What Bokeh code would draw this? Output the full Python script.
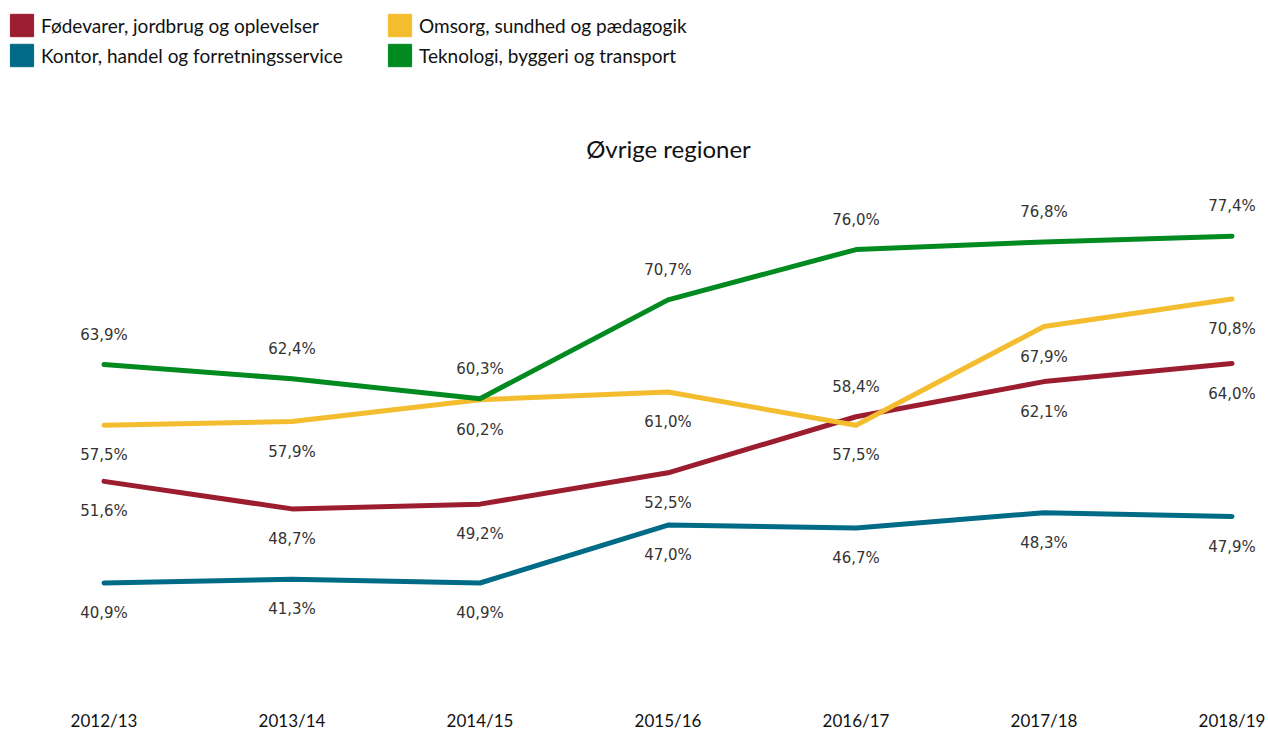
from bokeh.plotting import figure
from bokeh.models import Range1d, FixedTicker, Legend, LegendItem, Label, ColumnDataSource
from bokeh.core.properties import value
from bokeh.embed import file_html
from bokeh.resources import INLINE

years = ["2012/13", "2013/14", "2014/15", "2015/16", "2016/17", "2017/18", "2018/19"]
series_names = [
    "Fødevarer, jordbrug og oplevelser",
    "Kontor, handel og forretningsservice",
    "Omsorg, sundhed og pædagogik",
    "Teknologi, byggeri og transport",
]
foedevarer = [51.6, 48.7, 49.2, 52.5, 58.4, 62.1, 64.0]
kontor = [40.9, 41.3, 40.9, 47.0, 46.7, 48.3, 47.9]
omsorg = [57.5, 57.9, 60.2, 61.0, 57.5, 67.9, 70.8]
teknologi = [63.9, 62.4, 60.3, 70.7, 76.0, 76.8, 77.4]
title_text = "Øvrige regioner"

colors = ["#9b1d2f", "#006b86", "#f4bd2f", "#008a20"]
series_values = [foedevarer, kontor, omsorg, teknologi]
# label placement: True = above the point
above_flags = [
    [False, False, False, False, True, False, False],
    [False] * 7,
    [False] * 7,
    [True] * 7,
]

W, H = 1268, 733
MBB = 36
B = H - MBB  # frame bottom
p = figure(width=W, height=H, output_backend="svg", toolbar_location=None,
           min_border_left=0, min_border_right=0, min_border_top=0, min_border_bottom=MBB,
           outline_line_color=None)
p.x_range = Range1d(-0.5505, 6.194)
p.y_range = Range1d(63.9 - (B - 364) / 9.5, 63.9 + 364 / 9.5)
p.xgrid.visible = False
p.ygrid.visible = False
p.yaxis.visible = False
ax = p.xaxis[0]
ax.ticker = FixedTicker(ticks=list(range(len(years))))
ax.major_label_overrides = {i: y for i, y in enumerate(years)}
ax.axis_line_color = None
ax.major_tick_line_color = None
ax.minor_tick_line_color = None
ax.major_tick_in = 0
ax.major_tick_out = 0
ax.minor_tick_in = 0
ax.minor_tick_out = 0
ax.major_label_text_font = "Lato"
ax.major_label_text_font_size = "17px"
ax.major_label_text_color = "#111111"
ax.major_label_standoff = 12

xs = list(range(len(years)))
for vals, col in zip(series_values, colors):
    p.line(xs, vals, line_color=col, line_width=5, line_join="round", line_cap="round")
for vals, col, flags in zip(series_values, colors, above_flags):
    src = ColumnDataSource(dict(
        x=xs, y=vals,
        t=[f"{v:.1f}%".replace(".", ",") for v in vals],
        off=[-30 if a else 30 for a in flags],
    ))
    p.text(x="x", y="y", text="t", y_offset="off", source=src,
           text_align="center", text_baseline="middle",
           text_font=value("DejaVu Sans"), text_font_size="15px", text_color="#333333")

# legend glyphs (no visible data)
nan = float("nan")
rends = []
for col in colors:
    r = p.quad(left=[nan], right=[nan], top=[nan], bottom=[nan], fill_color=col, line_color=col)
    rends.append(r)

GW, GH, SP = 29, 28, 2
def mk_legend(idx, x):
    leg = Legend(items=[LegendItem(label=series_names[i], renderers=[rends[i]]) for i in idx],
                 location=(x, B - 11 - (2 * GH + SP)), orientation="vertical",
                 glyph_width=GW, glyph_height=GH, label_standoff=5, spacing=SP,
                 padding=0, margin=0, border_line_color=None, background_fill_alpha=0,
                 label_text_font="Lato", label_text_font_size="19px", label_text_color="#111111",
                 label_height=GH)
    p.add_layout(leg)
mk_legend([0, 1], 7)
mk_legend([2, 3], 385)

p.add_layout(Label(x=668, y=B - 148, x_units="screen", y_units="screen",
                   text=title_text, text_align="center", text_baseline="middle",
                   text_font="Lato", text_font_size="24px", text_color="#111111"))

open("out.html", "w").write(file_html(p, INLINE))
